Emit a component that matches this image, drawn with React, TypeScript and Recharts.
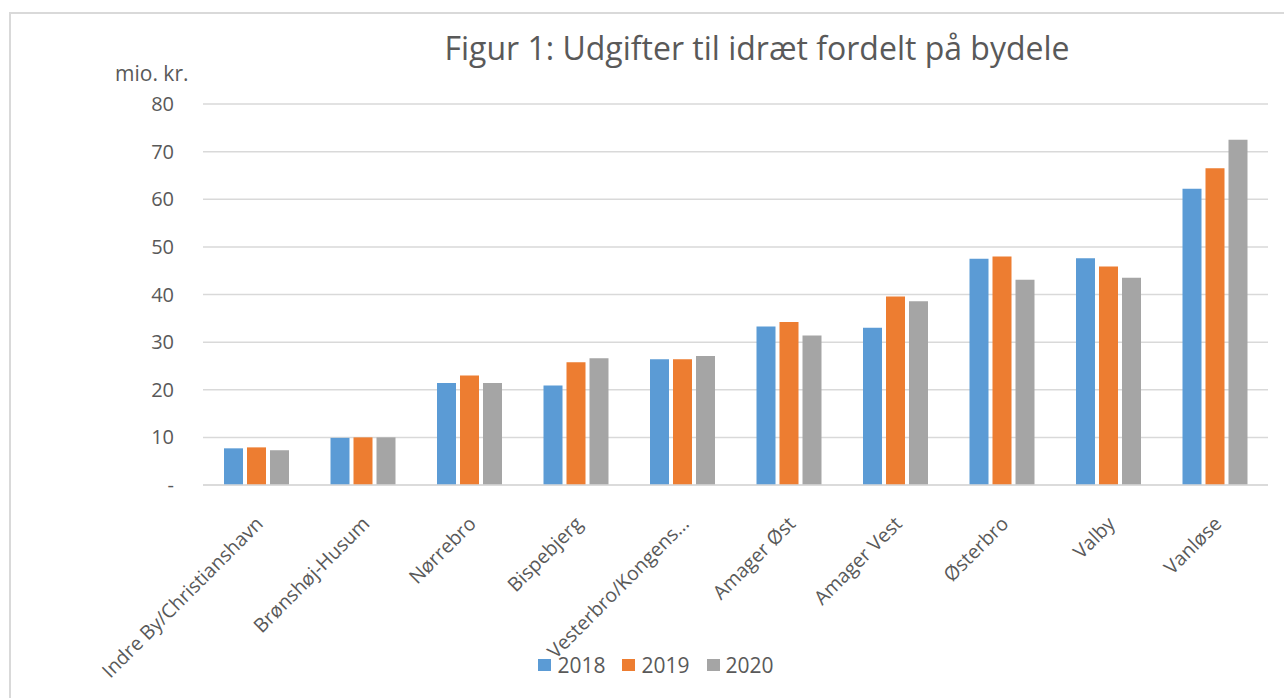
import React from 'react';
import { BarChart, Bar, XAxis, YAxis, CartesianGrid, Legend } from 'recharts';

const categories = [
  'Indre By/Christianshavn',
  'Brønshøj-Husum',
  'Nørrebro',
  'Bispebjerg',
  'Vesterbro/Kongens…',
  'Amager Øst',
  'Amager Vest',
  'Østerbro',
  'Valby',
  'Vanløse',
];
const values2018 = [7.7, 9.9, 21.4, 20.9, 26.4, 33.3, 33.0, 47.5, 47.6, 62.2];
const values2019 = [7.9, 10.0, 23.0, 25.8, 26.4, 34.2, 39.6, 48.0, 45.9, 66.5];
const values2020 = [7.3, 10.0, 21.4, 26.6, 27.1, 31.4, 38.6, 43.1, 43.5, 72.5];
const yTicks = [0, 10, 20, 30, 40, 50, 60, 70, 80];
const seriesNames = ['2018', '2019', '2020'];
const seriesColors = ['#5B9BD5', '#ED7D31', '#A5A5A5'];

const data = categories.map((name, i) => ({
  name,
  '2018': values2018[i],
  '2019': values2019[i],
  '2020': values2020[i],
}));

const FONT = '"Open Sans", "Noto Sans", sans-serif';
const TEXT_COLOR = '#595959';

const XTick = (props: any) => {
  const { x, y, payload } = props;
  return (
    <g transform={`translate(${x + 8},${y + 32})`}>
      <text
        x={0}
        y={0}
        transform="rotate(-45)"
        textAnchor="end"
        fill={TEXT_COLOR}
        fontSize={19.5}
        fontFamily={FONT}
      >
        {payload.value}
      </text>
    </g>
  );
};

const LegendContent = () => (
  <div
    style={{
      display: 'flex',
      justifyContent: 'center',
      alignItems: 'center',
      fontFamily: FONT,
      fontSize: 21,
      color: TEXT_COLOR,
      height: 26,
      paddingLeft: 44,
    }}
  >
    {seriesNames.map((n, i) => (
      <div key={n} style={{ display: 'flex', alignItems: 'center', marginRight: i < 2 ? 17 : 0 }}>
        <div style={{ width: 13, height: 12, background: seriesColors[i], marginRight: 6 }} />
        <span>{n}</span>
      </div>
    ))}
  </div>
);

export default function App() {
  return (
    <div style={{ position: 'absolute', left: 0, top: 0, width: 1284, height: 698, background: '#fff', overflow: 'hidden' }}>
      <div
        style={{
          position: 'absolute',
          left: 9,
          top: 12,
          width: 1300,
          height: 720,
          border: '2px solid #D9D9D9',
          boxSizing: 'border-box',
        }}
      />
      <div
        style={{
          position: 'absolute',
          left: 0,
          width: 1514,
          top: 26,
          textAlign: 'center',
          fontFamily: FONT,
          fontSize: 32,
          color: TEXT_COLOR,
          whiteSpace: 'nowrap',
        }}
      >
        Figur 1: Udgifter til idræt fordelt på bydele
      </div>
      <div
        style={{
          position: 'absolute',
          left: 115,
          top: 59,
          fontFamily: FONT,
          fontSize: 21,
          color: TEXT_COLOR,
          whiteSpace: 'nowrap',
        }}
      >
        mio. kr.
      </div>
      <div style={{ position: 'absolute', left: 0, top: 0 }}>
        <BarChart
          width={1284}
          height={698}
          data={data}
          margin={{ top: 104, right: 16, left: 0, bottom: 20 }}
          barSize={19}
          barGap={4}
        >
          <CartesianGrid vertical={false} stroke="#D9D9D9" strokeWidth={1.5} />
          <XAxis
            dataKey="name"
            interval={0}
            tickLine={false}
            axisLine={{ stroke: '#D9D9D9', strokeWidth: 1.5 }}
            tick={<XTick />}
            height={167}
          />
          <YAxis
            width={203}
            domain={[0, 80]}
            ticks={yTicks}
            tickLine={false}
            axisLine={false}
            tickSize={0}
            tickMargin={29}
            tick={{ fill: TEXT_COLOR, fontSize: 20, fontFamily: FONT }}
            tickFormatter={(v: number) => (v === 0 ? '-' : String(v))}
          />
          <Legend verticalAlign="bottom" height={26} content={<LegendContent />} />
          {seriesNames.map((n, i) => (
            <Bar key={n} dataKey={n} fill={seriesColors[i]} isAnimationActive={false} />
          ))}
        </BarChart>
      </div>
    </div>
  );
}
